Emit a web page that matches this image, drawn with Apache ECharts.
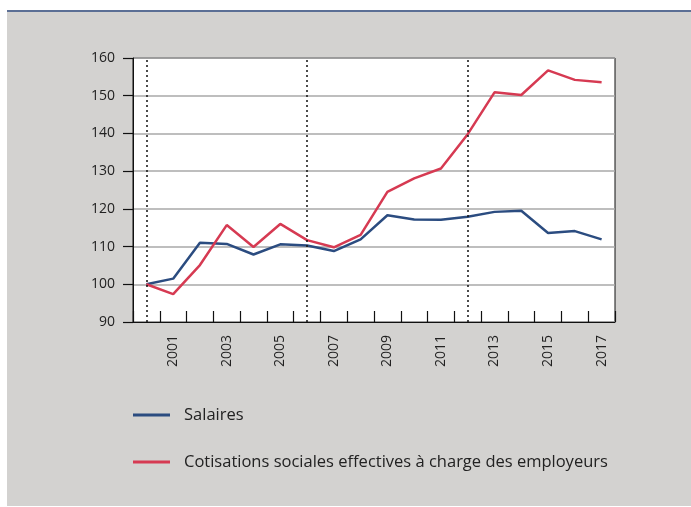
<!DOCTYPE html>
<html><head><meta charset="utf-8">
<script src="https://cdn.jsdelivr.net/npm/echarts@6/dist/echarts.min.js"></script>
<style>html,body{margin:0;padding:0;background:#fff}#c{width:691px;height:507px}</style>
</head><body><div id="c"></div>
<script>
const years = ['2000','2001','2002','2003','2004','2005','2006','2007','2008','2009','2010','2011','2012','2013','2014','2015','2016','2017'];
const salaires = [100, 101.5, 111.0, 110.7, 107.9, 110.6, 110.3, 108.8, 111.9, 118.3, 117.2, 117.1, 117.9, 119.2, 119.5, 113.6, 114.1, 111.9];
const cotisations = [100, 97.4, 105.1, 115.7, 109.9, 116.0, 111.7, 109.8, 113.1, 124.5, 128.1, 130.7, 139.8, 150.9, 150.2, 156.7, 154.2, 153.6];
const markYears = ['2000','2006','2012'];
const seriesNames = ['Salaires','Cotisations sociales effectives à charge des employeurs'];

const font = '"Open Sans", "Noto Sans", sans-serif';
const chart = echarts.init(document.getElementById('c'), null, {renderer:'canvas'});
chart.setOption({
  animation:false,
  backgroundColor:'#ffffff',
  textStyle:{fontFamily:font},
  graphic:[
    {type:'rect', z:-10, shape:{x:7,y:11,width:684,height:495}, style:{fill:'#d3d2d0'}},
    {type:'rect', z:-9, shape:{x:7,y:10,width:684,height:2}, style:{fill:'#5b6f95'}}
  ],
  grid:{left:133,top:58,right:76,bottom:185,show:true,backgroundColor:'#ffffff',borderColor:'#111',borderWidth:1},
  xAxis:{
    type:'category', data:years, boundaryGap:true,
    axisLine:{show:true,lineStyle:{color:'#111',width:1}},
    axisTick:{show:true,inside:true,length:11,interval:0,lineStyle:{color:'#111',width:1.2}},
    axisLabel:{rotate:90,margin:13,fontSize:14,color:'#222',fontFamily:font,
      interval:function(i){return i%2===1;}},
    splitLine:{show:false}
  },
  yAxis:{
    type:'value', min:90, max:160, interval:10,
    axisLine:{show:true,lineStyle:{color:'#111',width:1}},
    axisTick:{show:true,inside:false,length:10,lineStyle:{color:'#111',width:1.2}},
    axisLabel:{margin:18,fontSize:14,color:'#222',fontFamily:font},
    splitLine:{show:true,lineStyle:{color:'#a8a8a8',width:1.5}}
  },
  legend:{
    orient:'vertical', left:128, top:400, icon:'rect', itemWidth:37, itemHeight:3,
    itemGap:27, data:seriesNames,
    textStyle:{fontSize:16.5,color:'#222',fontFamily:font,lineHeight:20,padding:[0,0,0,9]}
  },
  series:[
    {name:seriesNames[0], type:'line', data:salaires, symbol:'none', z:3,
     lineStyle:{color:'#2b4c80',width:2.5}, itemStyle:{color:'#2b4c80'},
     markLine:{silent:true,symbol:['none','none'],label:{show:false},
       lineStyle:{color:'#111',type:[2,3],width:1.5},
       data:markYears.map(y=>({xAxis:y}))}
    },
    {name:seriesNames[1], type:'line', data:cotisations, symbol:'none', z:4,
     lineStyle:{color:'#d63a52',width:2.5}, itemStyle:{color:'#d63a52'}}
  ]
});
</script></body></html>
